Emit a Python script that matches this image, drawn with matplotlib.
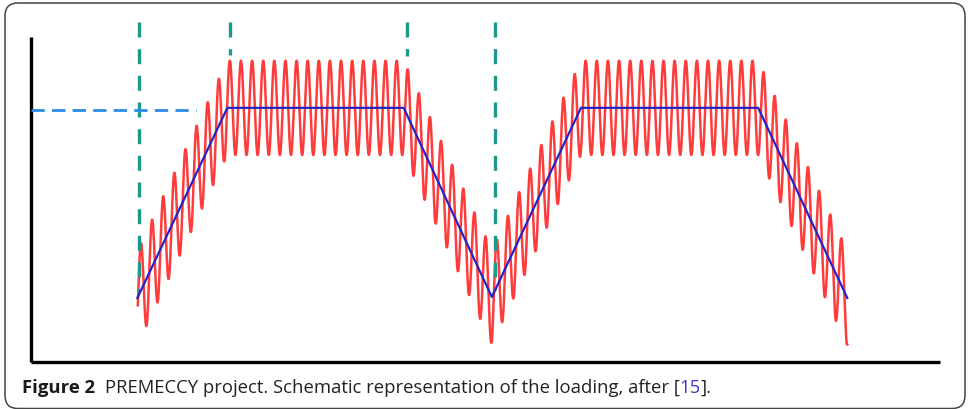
import numpy as np
import matplotlib.pyplot as plt
from matplotlib.patches import FancyBboxPatch


# blue envelope of the load (time, load) in arbitrary units
ENVELOPE_T = [11.7, 21.6, 41.0, 50.7, 60.5, 80.0, 89.8]
ENVELOPE_LOAD = [19.7, 78.2, 78.2, 20.0, 78.2, 78.2, 19.7]

# superimposed cyclic loading
WAVE_AMPLITUDE = 14.5
WAVE_PERIOD = 1.2233
WAVE_PEAK_T = 12.09   # time of the first peak
WAVE_START = 11.75
WAVE_END = 89.8

# vertical dashed markers (time, lower end) and their common top
MARKER_T = [11.9, 21.9, 41.4, 51.0]
MARKER_BOTTOM = [21.5, 94.5, 94.0, 22.2]
MARKER_TOP = 104.6

# horizontal reference level
REF_LEVEL = 77.6
REF_END = 18.2

CAPTION_BOLD = "Figure 2"
CAPTION_TEXT = "PREMECCY project. Schematic representation of the loading, after ["
CAPTION_REF = "15"
CAPTION_TAIL = "]."

RED = "#ff1a1a"
BLUE = "#2323c8"
TEAL = "#1c998a"
REF_BLUE = "#2b8be8"


if __name__ == "__main__":
    fig = plt.figure(figsize=(9.68, 4.09), dpi=100)
    ax = fig.add_axes([31/968, (409-362)/409, (940-31)/968, (362-37)/409])

    # red: envelope plus the oscillation
    t = np.linspace(WAVE_START, WAVE_END, 6000)
    env = np.interp(t, ENVELOPE_T, ENVELOPE_LOAD)
    load = env + WAVE_AMPLITUDE*np.cos(2*np.pi*(t - WAVE_PEAK_T)/WAVE_PERIOD)
    ax.plot(t, load, color=RED, lw=1.8, alpha=0.85, zorder=2)

    # teal markers
    for x, yb in zip(MARKER_T, MARKER_BOTTOM):
        ax.plot([x, x], [MARKER_TOP, yb], color=TEAL, lw=2.4,
                ls=(0, (4.5, 3.5)), clip_on=False, zorder=3)

    ax.plot(ENVELOPE_T, ENVELOPE_LOAD, color=BLUE, lw=1.6, zorder=4)
    ax.plot([0, REF_END], [REF_LEVEL, REF_LEVEL], color=REF_BLUE, lw=2.0,
            ls=(0, (4.8, 2.6)), clip_on=False, zorder=3)

    ax.set_xlim(0, 100)
    ax.set_ylim(0, 100)
    ax.set_xticks([])
    ax.set_yticks([])
    for side in ['top', 'right']:
        ax.spines[side].set_visible(False)
    for side in ['left', 'bottom']:
        ax.spines[side].set_linewidth(2.4)
        ax.spines[side].set_color('black')
        ax.spines[side].set_capstyle('butt')

    # rounded frame round the whole figure
    frame = FancyBboxPatch((0.05, 0.005), 9.6, 4.055,
                           boxstyle="round,pad=0,rounding_size=0.13",
                           transform=fig.dpi_scale_trans, fill=False,
                           edgecolor='#444444', lw=1.1)
    fig.patches.append(frame)

    # caption, written piece by piece
    renderer = fig.canvas.get_renderer()
    fs = 13.3
    fam = ['Open Sans', 'DejaVu Sans']
    x = 22/968
    y = 16/409
    pieces = [(CAPTION_BOLD + "  ", 'bold', '#1a1a1a'),
              (CAPTION_TEXT, 'normal', '#222222'),
              (CAPTION_REF, 'normal', '#3a3ad0'),
              (CAPTION_TAIL, 'normal', '#222222')]
    for s, w, c in pieces:
        txt = fig.text(x, y, s, fontsize=fs, fontweight=w, color=c,
                       family=fam, va='baseline', ha='left')
        bb = txt.get_window_extent(renderer=renderer)
        x += bb.width/968

    fig.savefig('out.png', dpi=100)
